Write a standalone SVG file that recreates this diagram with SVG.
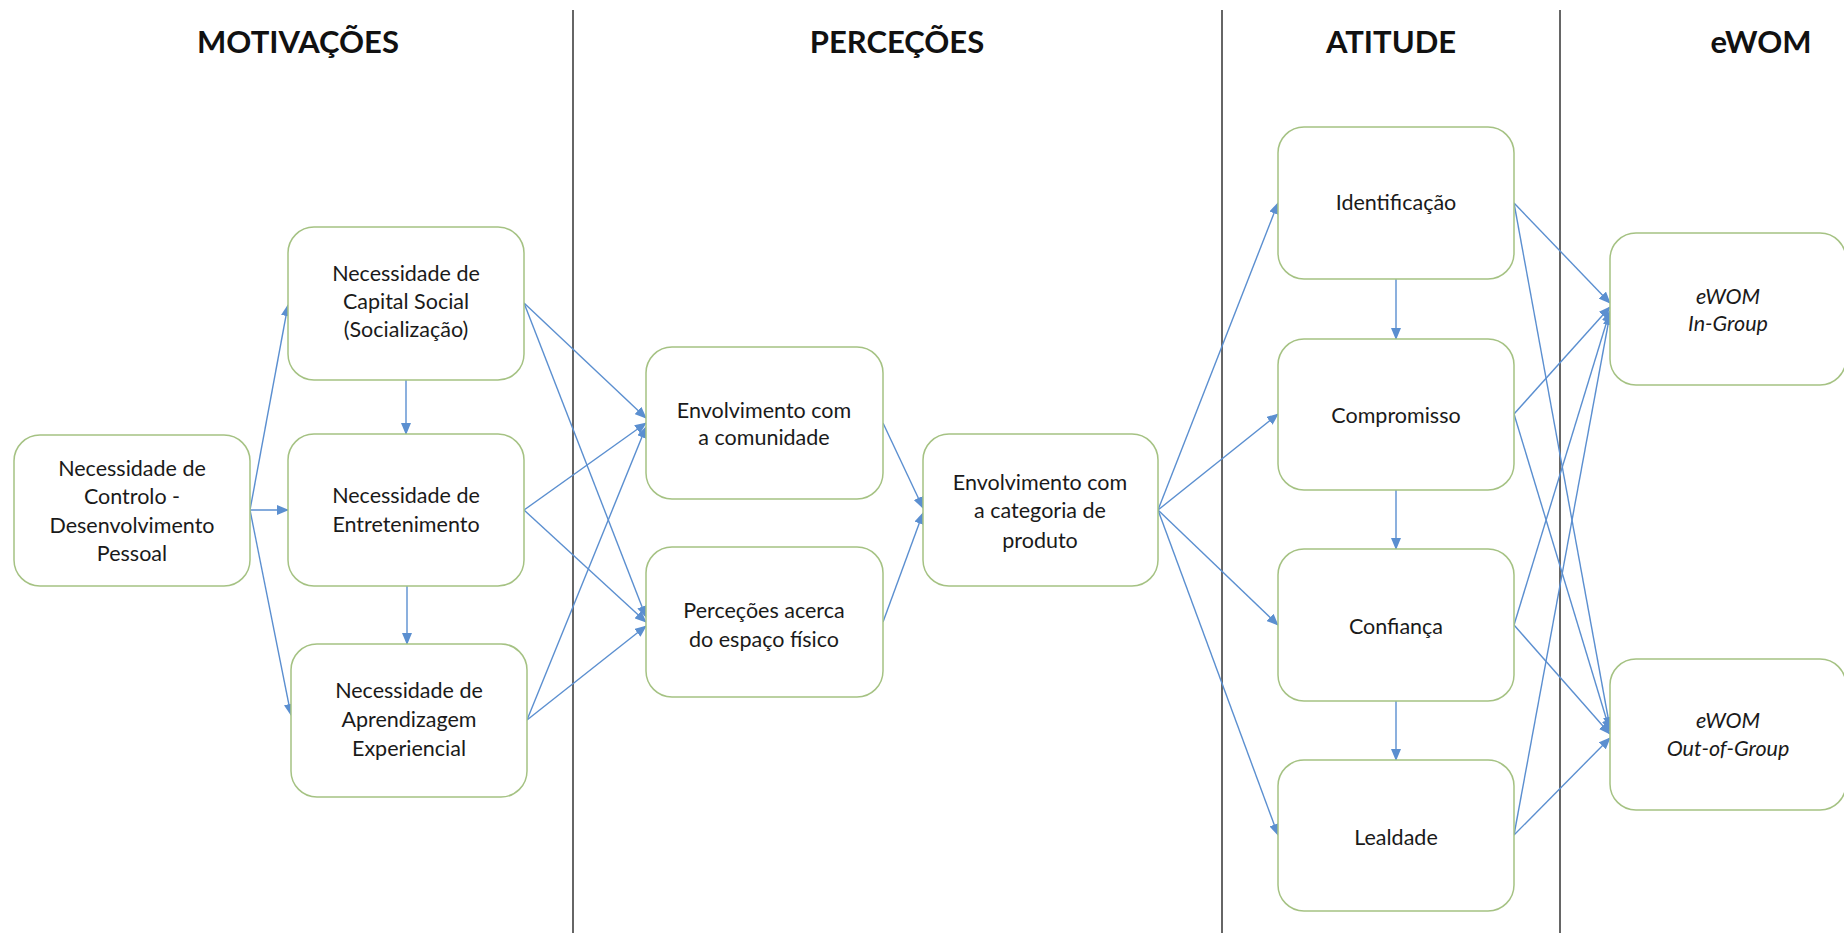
<svg xmlns="http://www.w3.org/2000/svg" width="1844" height="933" viewBox="0 0 1844 933">
<style>
.bg{fill:#ffffff}
.node rect{fill:#ffffff;stroke:#a5c283;stroke-width:1.5}
.node text{font-family:Lato,"Open Sans","Liberation Sans",sans-serif;font-size:21.5px;fill:#1a1a1a;text-anchor:middle}
.node text.it{font-style:italic}
.hdr{font-family:Lato,"Open Sans","Liberation Sans",sans-serif;font-size:31px;font-weight:bold;fill:#111;text-anchor:middle}
.sep{stroke:#333;stroke-width:1.5}
.conn line{stroke:#5b8fd0;stroke-width:1.4;marker-end:url(#ah)}
</style>
<defs>
<marker id="ah" markerUnits="userSpaceOnUse" markerWidth="12" markerHeight="10" refX="11" refY="5" orient="auto">
<path d="M0,0 L12,5 L0,10 z" fill="#5b8fd0"/>
</marker>
</defs>
<rect class="bg" x="0" y="0" width="1844" height="933"/>
<g id="headers">
<text class="hdr" x="298" y="53">MOTIVAÇÕES</text>
<text class="hdr" x="897" y="53">PERCEÇÕES</text>
<text class="hdr" x="1391" y="53">ATITUDE</text>
<text class="hdr" x="1761" y="53">eWOM</text>
</g>
<g id="separators">
<line class="sep" x1="573" y1="10" x2="573" y2="933"/>
<line class="sep" x1="1222" y1="10" x2="1222" y2="933"/>
<line class="sep" x1="1560" y1="10" x2="1560" y2="933"/>
</g>
<g id="connectors" class="conn">
<line x1="250" y1="510" x2="288" y2="305"/>
<line x1="250" y1="510" x2="288" y2="510"/>
<line x1="250" y1="510" x2="291" y2="715"/>
<line x1="406" y1="380" x2="406" y2="434"/>
<line x1="407" y1="586" x2="407" y2="644"/>
<line x1="524" y1="303" x2="646" y2="418"/>
<line x1="524" y1="303" x2="646" y2="617"/>
<line x1="524" y1="510" x2="646" y2="423"/>
<line x1="524" y1="510" x2="646" y2="622"/>
<line x1="527" y1="720" x2="646" y2="427"/>
<line x1="527" y1="720" x2="646" y2="626"/>
<line x1="883" y1="423" x2="923" y2="508"/>
<line x1="883" y1="622" x2="923" y2="513"/>
<line x1="1158" y1="510" x2="1278" y2="203"/>
<line x1="1158" y1="510" x2="1278" y2="414"/>
<line x1="1158" y1="510" x2="1278" y2="625"/>
<line x1="1158" y1="510" x2="1278" y2="835"/>
<line x1="1396" y1="279" x2="1396" y2="339"/>
<line x1="1396" y1="490" x2="1396" y2="549"/>
<line x1="1396" y1="701" x2="1396" y2="760"/>
<line x1="1514" y1="203" x2="1610" y2="303"/>
<line x1="1514" y1="203" x2="1610" y2="728"/>
<line x1="1514" y1="414" x2="1610" y2="307"/>
<line x1="1514" y1="414" x2="1610" y2="731"/>
<line x1="1514" y1="625" x2="1610" y2="311"/>
<line x1="1514" y1="625" x2="1610" y2="734"/>
<line x1="1514" y1="835" x2="1610" y2="314"/>
<line x1="1514" y1="835" x2="1610" y2="738"/>
</g>
<g id="n-controlo" class="node">
<rect x="14" y="435" width="236" height="151" rx="26"/>
<text x="132" y="476">Necessidade de</text>
<text x="132" y="504">Controlo -</text>
<text x="132" y="533">Desenvolvimento</text>
<text x="132" y="561">Pessoal</text>
</g>
<g id="n-capital" class="node">
<rect x="288" y="227" width="236" height="153" rx="26"/>
<text x="406" y="281">Necessidade de</text>
<text x="406" y="309">Capital Social</text>
<text x="406" y="337">(Socialização)</text>
</g>
<g id="n-entretenimento" class="node">
<rect x="288" y="434" width="236" height="152" rx="26"/>
<text x="406" y="503">Necessidade de</text>
<text x="406" y="532">Entretenimento</text>
</g>
<g id="n-aprendizagem" class="node">
<rect x="291" y="644" width="236" height="153" rx="26"/>
<text x="409" y="698">Necessidade de</text>
<text x="409" y="727">Aprendizagem</text>
<text x="409" y="756">Experiencial</text>
</g>
<g id="n-comunidade" class="node">
<rect x="646" y="347" width="237" height="152" rx="26"/>
<text x="764" y="418">Envolvimento com</text>
<text x="764" y="445">a comunidade</text>
</g>
<g id="n-espaco" class="node">
<rect x="646" y="547" width="237" height="150" rx="26"/>
<text x="764" y="618">Perceções acerca</text>
<text x="764" y="647">do espaço físico</text>
</g>
<g id="n-categoria" class="node">
<rect x="923" y="434" width="235" height="152" rx="26"/>
<text x="1040" y="490">Envolvimento com</text>
<text x="1040" y="518">a categoria de</text>
<text x="1040" y="548">produto</text>
</g>
<g id="n-identificacao" class="node">
<rect x="1278" y="127" width="236" height="152" rx="26"/>
<text x="1396" y="210">Identificação</text>
</g>
<g id="n-compromisso" class="node">
<rect x="1278" y="339" width="236" height="151" rx="26"/>
<text x="1396" y="423">Compromisso</text>
</g>
<g id="n-confianca" class="node">
<rect x="1278" y="549" width="236" height="152" rx="26"/>
<text x="1396" y="634">Confiança</text>
</g>
<g id="n-lealdade" class="node">
<rect x="1278" y="760" width="236" height="151" rx="26"/>
<text x="1396" y="845">Lealdade</text>
</g>
<g id="n-ingroup" class="node">
<rect x="1610" y="233" width="236" height="152" rx="26"/>
<text class="it" x="1728" y="304">eWOM</text>
<text class="it" x="1728" y="331">In-Group</text>
</g>
<g id="n-outgroup" class="node">
<rect x="1610" y="659" width="236" height="151" rx="26"/>
<text class="it" x="1728" y="728">eWOM</text>
<text class="it" x="1728" y="756">Out-of-Group</text>
</g>
</svg>
